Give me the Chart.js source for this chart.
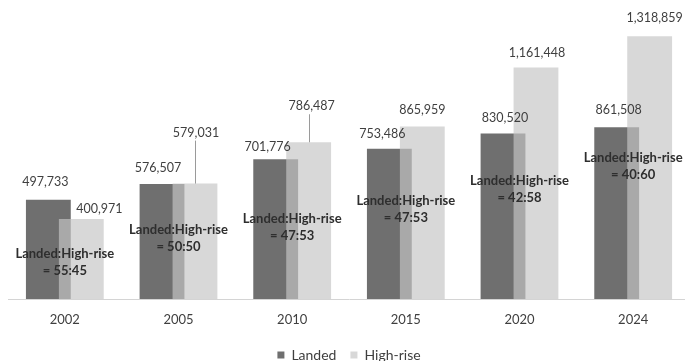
<!DOCTYPE html>
<html>
<head>
<meta charset="utf-8">
<script src="https://cdn.jsdelivr.net/npm/chart.js@4.4.1/dist/chart.umd.min.js"></script>
<style>
  html, body { margin: 0; padding: 0; background: #fff; overflow: hidden; }
  #wrap { width: 692px; height: 361px; }
</style>
</head>
<body>
<div id="wrap"><canvas id="chart1"></canvas></div>
<script>
// data
const years = ['2002', '2005', '2010', '2015', '2020', '2024'];
const landed = [497733, 576507, 701776, 753486, 830520, 861508];
const highrise = [400971, 579031, 786487, 865959, 1161448, 1318859];
const ratios = ['55:45', '50:50', '47:53', '47:53', '42:58', '40:60'];

// label placement (pixels, relative to bar top centre)
const landed_off = [[-3, 18], [-4, 16], [-8, 12], [-7, 15], [2, 16], [2, 17]];
const highrise_off = [[18, 10], [1, 51], [3, 36], [0, 16], [1, 15], [5, 18]];
const leader = [false, true, true, false, false, false];
// ratio note height above the axis
const ratio_y = [45, 69, 80, 98, 118, 141];

function fmt(v) {
    return v.toLocaleString('en-US');
}

// high-rise bars sit on top of the landed ones, so hold them back
// and let the library draw them after the landed set
let drawing_late = false;

const labelPlugin = {
    id: 'barLabels',
    beforeDatasetDraw(chart, args) {
        if (args.index == 1 && !drawing_late) return false;
    },
    afterDatasetsDraw(chart) {
        drawing_late = true;
        chart.getDatasetMeta(1).controller.draw();
        drawing_late = false;

        const ctx = chart.ctx;
        const base = chart.chartArea.bottom;
        ctx.save();
        ctx.textAlign = 'center';
        ctx.textBaseline = 'middle';
        ctx.font = '12.5px Lato';
        ctx.fillStyle = '#3f3f3f';
        const sets = [[landed, landed_off], [highrise, highrise_off]];
        sets.forEach(function (s, di) {
            const meta = chart.getDatasetMeta(di);
            meta.data.forEach(function (bar, i) {
                const off = s[1][i];
                const lx = bar.x + off[0];
                const ly = bar.y - off[1];
                ctx.fillText(fmt(s[0][i]), lx, ly);
                if (di == 1 && leader[i]) {
                    ctx.strokeStyle = '#9a9a9a';
                    ctx.lineWidth = 1;
                    ctx.beginPath();
                    ctx.moveTo(Math.round(bar.x) + 0.5, ly + 8);
                    ctx.lineTo(Math.round(bar.x) + 0.5, bar.y);
                    ctx.stroke();
                }
            });
        });
        // ratio notes
        ctx.font = 'bold 13px Lato';
        ctx.fillStyle = '#2e2e2e';
        const xs = chart.scales.x;
        years.forEach(function (y, i) {
            const cx = xs.getPixelForValue(i);
            const cy = base - ratio_y[i];
            ctx.fillText('Landed:High-rise', cx, cy);
            ctx.fillText('= ' + ratios[i], cx, cy + 17);
        });
        ctx.restore();
    }
};

const chart1_cfg = {
    type: 'bar',
    data: {
        labels: years,
        datasets: [
            {
                label: 'Landed',
                data: landed,
                backgroundColor: '#6f6f6f',
                categoryPercentage: 0.58,
                barPercentage: 1.36
            },
            {
                label: 'High-rise',
                data: highrise,
                backgroundColor: 'rgba(198,198,198,0.68)',
                categoryPercentage: 0.58,
                barPercentage: 1.36
            }
        ]
    },
    options: {
        responsive: true,
        maintainAspectRatio: false,
        animation: false,
        layout: {
            padding: { left: 8, right: 2, top: 20, bottom: -11 }
        },
        scales: {
            x: {
                grid: { display: false },
                border: { color: '#d4d4d4', width: 1 },
                ticks: {
                    color: '#3f3f3f',
                    font: { family: 'Lato', size: 13 },
                    padding: 5
                },
                afterFit: function (scale) { scale.height = 35; }
            },
            y: {
                display: false,
                min: 0,
                max: 1400000
            }
        },
        plugins: {
            legend: {
                position: 'bottom',
                labels: {
                    color: '#3f3f3f',
                    font: { family: 'Lato', size: 14 },
                    boxWidth: 7,
                    boxHeight: 7,
                    padding: 14
                }
            },
            tooltip: { enabled: false }
        }
    },
    plugins: [labelPlugin]
};

const chart1_ctx = document.getElementById('chart1').getContext('2d');
let chart1 = new Chart(chart1_ctx, chart1_cfg);
</script>
</body>
</html>
